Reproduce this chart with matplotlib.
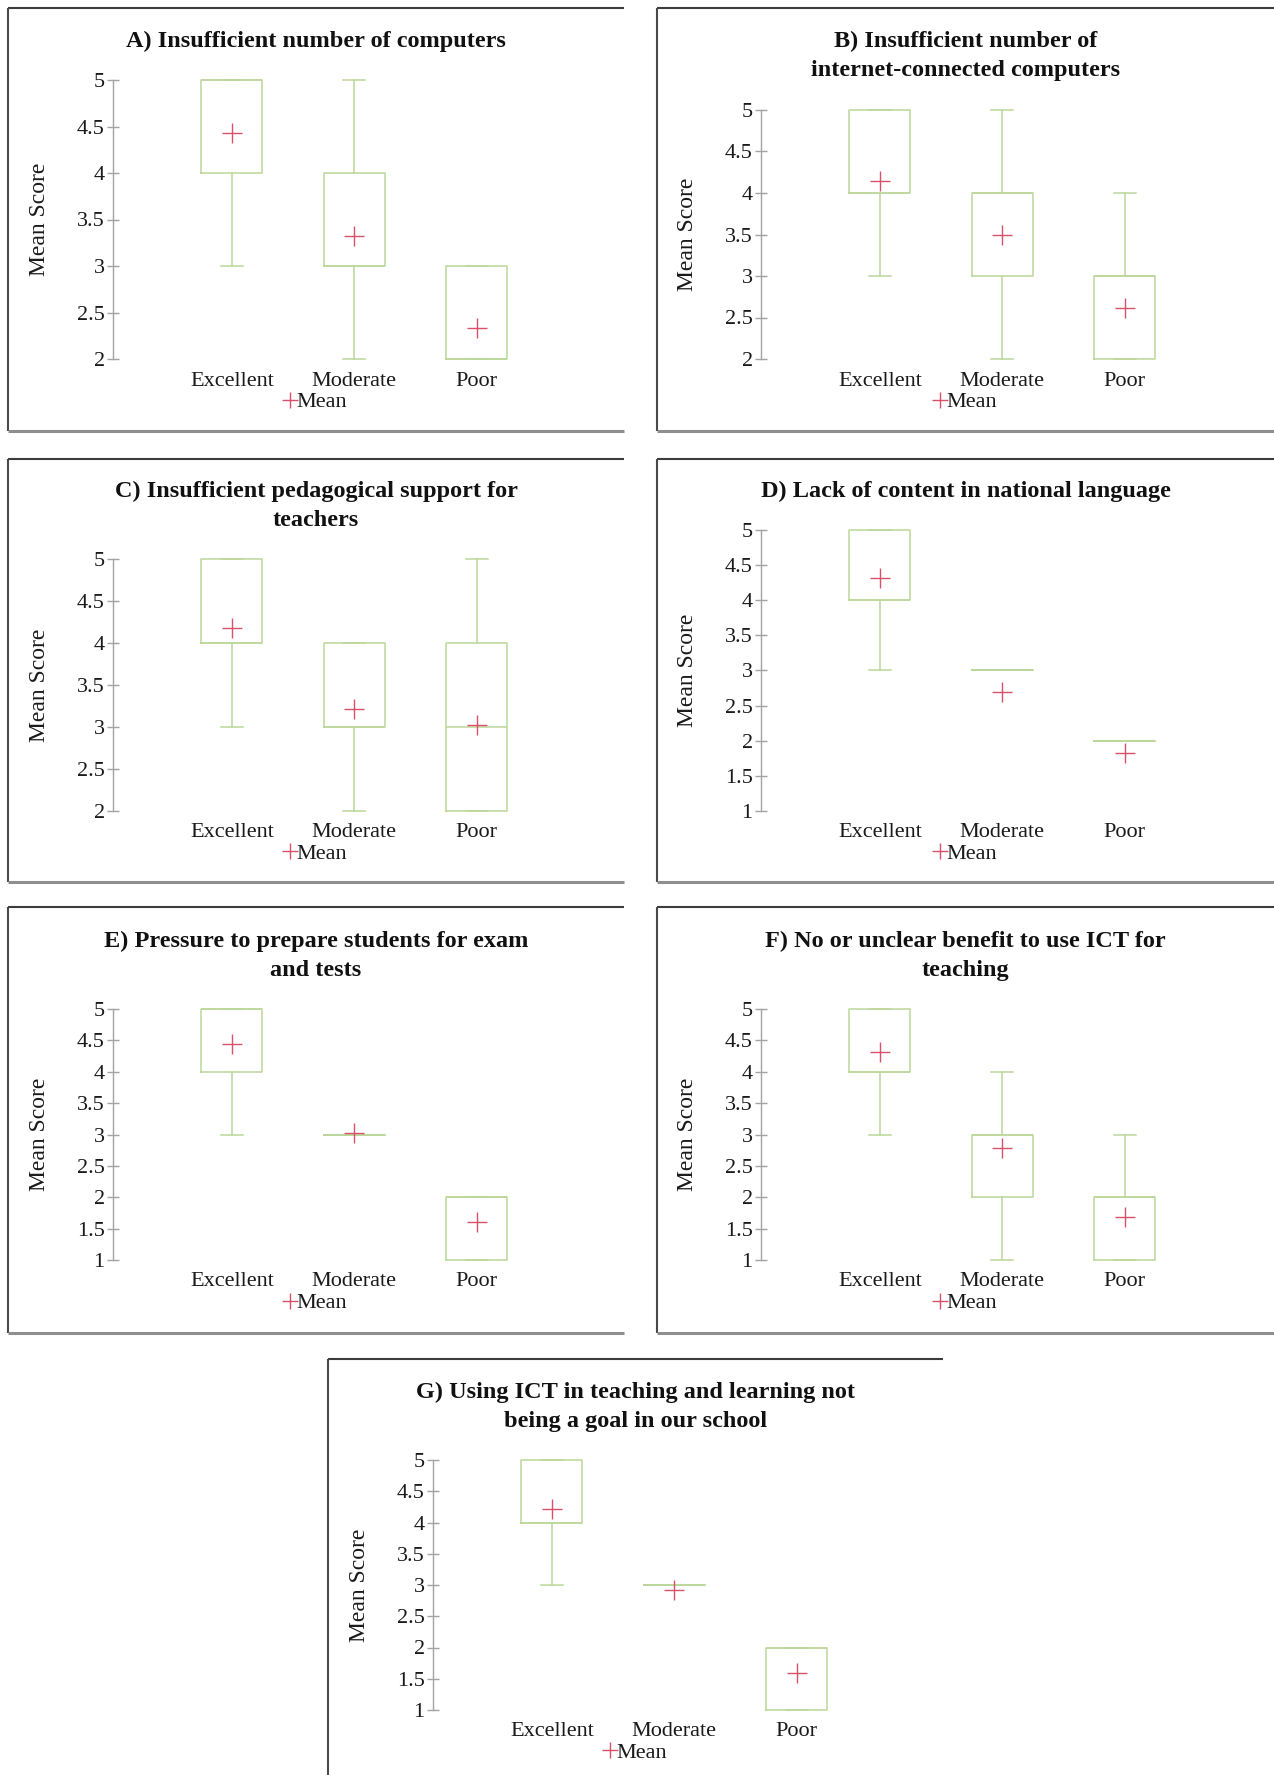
import matplotlib
matplotlib.use("Agg")
import matplotlib.pyplot as plt
from matplotlib.lines import Line2D

plt.rcParams['font.family'] = ['Liberation Serif', 'DejaVu Serif']

# Data
categories = ['Excellent', 'Moderate', 'Poor']
titles = [
    'A) Insufficient number of computers',
    'B) Insufficient number of\ninternet-connected computers',
    'C) Insufficient pedagogical support for\nteachers',
    'D) Lack of content in national language',
    'E) Pressure to prepare students for exam\nand tests',
    'F) No or unclear benefit to use ICT for\nteaching',
    'G) Using ICT in teaching and learning not\nbeing a goal in our school',
]
y_min = [2, 2, 2, 1, 1, 1, 1]
q1_vals = [[4, 3, 2], [4, 3, 2], [4, 3, 2], [4, 3, 2], [4, 3, 1], [4, 2, 1], [4, 3, 1]]
q3_vals = [[5, 4, 3], [5, 4, 3], [5, 4, 4], [5, 3, 2], [5, 3, 2], [5, 3, 2], [5, 3, 2]]
med_vals = [[5, 3, 2], [4, 4, 3], [4, 3, 3], [4, 3, 2], [5, 3, 2], [4, 3, 2], [4, 3, 2]]
whislo_vals = [[3, 2, 2], [3, 2, 2], [3, 2, 2], [3, 3, 2], [3, 3, 1], [3, 1, 1], [3, 3, 1]]
whishi_vals = [[5, 5, 3], [5, 5, 4], [5, 4, 5], [5, 3, 2], [5, 3, 2], [5, 4, 3], [5, 3, 2]]
mean_vals = [[4.43, 3.32, 2.33], [4.15, 3.50, 2.62], [4.18, 3.21, 3.02],
             [4.31, 2.70, 1.82], [4.44, 3.03, 1.60], [4.32, 2.78, 1.68],
             [4.22, 2.92, 1.60]]

W, H = 1274, 1775
green = '#bcd79a'
red = '#d9506a'
axis_grey = '#a3a3a3'

fig = plt.figure(figsize=(W / 100, H / 100), dpi=100)

# panel frames: left, top, right, bottom (pixels), axis x, axis top/bottom, title y
panels = [
    (8, 8, 624, 431, 113, 80, 359, 41),
    (657, 8, 1274, 431, 761, 110, 359, 56),
    (8, 459, 624, 882, 113, 559, 811, 506),
    (657, 459, 1274, 882, 761, 530, 811, 491),
    (8, 907, 624, 1333, 113, 1009, 1260, 956),
    (657, 907, 1274, 1333, 761, 1009, 1260, 956),
    (328, 1359, 943, None, 433, 1460, 1710, 1407),
]

step = 122.5  # px per category


def fline(xs, ys, color, lw):
    fig.add_artist(Line2D([x / W for x in xs], [1 - y / H for y in ys],
                          color=color, lw=lw, transform=fig.transFigure,
                          solid_capstyle='butt'))


for i, (pl, pt, pr, pb, axx, ayt, ayb, ty) in enumerate(panels):
    # frame
    fline([pl, pr], [pt, pt], '#3c3c3c', 1.5)
    fline([pl, pl], [pt, pb if pb else H], '#4a4a4a', 1.5)
    if pb:
        fline([pl, pr], [pb, pb], '#8e8e8e', 2.2)

    x0, x1 = 0.03, 3.55
    ax = fig.add_axes([axx / W, 1 - ayb / H, (x1 - x0) * step / W, (ayb - ayt) / H])

    stats = []
    for j in range(3):
        stats.append(dict(q1=q1_vals[i][j], q3=q3_vals[i][j], med=med_vals[i][j],
                          whislo=whislo_vals[i][j], whishi=whishi_vals[i][j],
                          mean=mean_vals[i][j], label=categories[j]))
    ax.bxp(stats, positions=[1, 2, 3], widths=0.5, capwidths=0.18,
           showmeans=True, showfliers=False,
           boxprops=dict(color=green, lw=1.1),
           whiskerprops=dict(color=green, lw=1.1),
           capprops=dict(color=green, lw=1.1),
           medianprops=dict(color=green, lw=1.1),
           meanprops=dict(marker='+', markeredgecolor=red, markersize=14,
                          markeredgewidth=1.0))
    for art in ax.get_children():
        art.set_clip_on(False)

    ax.set_xlim(x0, x1)
    ax.set_ylim(y_min[i], 5)
    yt = [y_min[i] + 0.5 * k for k in range(int((5 - y_min[i]) / 0.5) + 1)]
    ax.set_yticks(yt)
    ax.set_yticklabels([f'{v:g}' for v in yt])
    ax.set_xticks([1, 2, 3])
    ax.set_xticklabels(categories)
    for s in ['top', 'right', 'bottom']:
        ax.spines[s].set_visible(False)
    ax.spines['left'].set_color(axis_grey)
    ax.spines['left'].set_linewidth(1.0)
    ax.tick_params(axis='y', direction='inout', length=8, width=1.0,
                   color=axis_grey, labelsize=16, labelcolor='#1a1a1a', pad=2)
    ax.tick_params(axis='x', length=0, labelsize=16, labelcolor='#1a1a1a', pad=9)
    ax.set_ylabel('Mean Score', fontsize=17, color='#1a1a1a')
    ax.yaxis.set_label_coords(-63 / ((x1 - x0) * step), 0.5)
    ax.patch.set_alpha(0)

    # title
    cx = (pl + (pr if pr else W)) / 2
    fig.text(cx / W, 1 - ty / H, titles[i], ha='center', va='center',
             fontsize=17.5, fontweight='bold', color='#111111', linespacing=1.45)

    # legend
    h = Line2D([], [], marker='+', ls='none', markeredgecolor=red,
               markersize=11, markeredgewidth=1.0)
    fig.legend([h], ['Mean'], loc='center', bbox_to_anchor=(cx / W, 1 - (ayb + 43) / H),
               frameon=False, fontsize=16, handlelength=0.5, handletextpad=0.05,
               borderpad=0, borderaxespad=0, labelcolor='#1a1a1a')

fig.savefig('out.png', dpi=100)
